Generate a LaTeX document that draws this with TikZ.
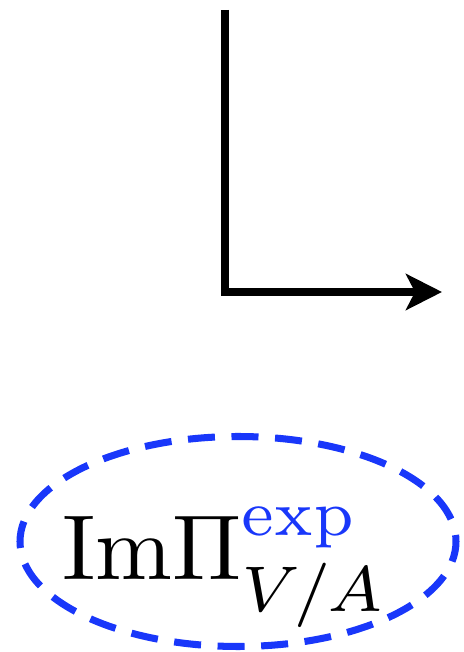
\documentclass[tikz,border=0pt]{standalone}
\usepackage{amsmath}
\usepackage{graphicx}
\usetikzlibrary{arrows.meta}

\definecolor{expblue}{RGB}{25,55,250}

\begin{document}
\begin{tikzpicture}[x=0.02cm, y=0.02cm]
    \useasboundingbox (0,0) rectangle (463,652);

    % axes
    \coordinate (top) at (225,642);
    \coordinate (origin) at (225,360);
    \coordinate (tip) at (442,360);
    \draw[line width=4pt, -{Stealth[length=0.72cm, width=0.72cm, inset=0.18cm]}] (top) -- (origin) -- (tip);

    % measured spectral function
    \draw[expblue, line width=4pt, dash pattern=on 0.54cm off 0.332cm, dash phase=0.41cm]
        (238,110.5) ellipse [x radius=218, y radius=105];
    \node[anchor=base west, inner sep=0pt] (impi) at (62,72)
        {\scalebox{5.25}{\normalsize $\mathrm{Im}\Pi^{\textcolor{expblue}{\mathrm{exp}}}_{V/A}$}};
\end{tikzpicture}
\end{document}
